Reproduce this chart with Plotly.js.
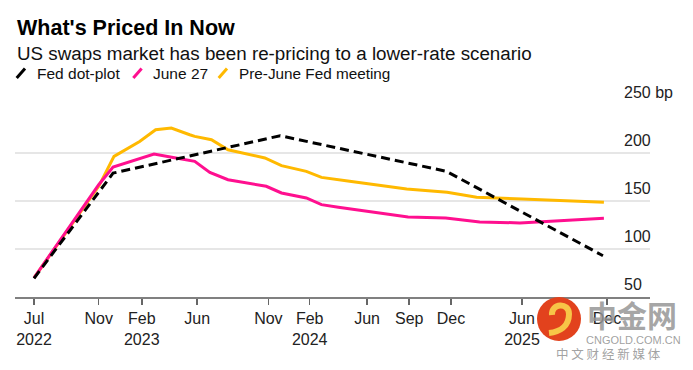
<!DOCTYPE html>
<html>
<head>
<meta charset="utf-8">
<script src="https://cdn.plot.ly/plotly-3.0.1.min.js"></script>
<style>
html,body{margin:0;padding:0;background:#fff;}
#chart{width:693px;height:370px;}
</style>
</head>
<body>
<div id="chart"></div>
<script>
// ---- data ----
const dotDates   = ['2022-07-01','2022-12-01','2023-11-27','2024-11-21','2025-11-23'];
const dotValues  = [69.5, 179, 218, 181, 93];

const juneDates  = ['2022-07-01','2022-11-01','2022-12-01','2023-02-28','2023-04-09','2023-05-15','2023-05-26',
                    '2023-06-28','2023-08-06','2023-10-27','2023-11-30','2024-01-24','2024-02-26','2024-04-01',
                    '2024-08-29','2024-11-20','2025-02-14','2025-05-26','2025-08-29','2025-11-25'];
const juneValues = [70, 167, 185.4, 199, 195.4, 192, 191.3,
                    179.8, 172.2, 165.3, 158.4, 153.2, 146.2, 143.5,
                    133.4, 132.4, 128.2, 127.2, 129.9, 132];

const preDates   = ['2022-07-01','2022-11-01','2022-12-03','2023-01-27','2023-03-01','2023-04-05','2023-05-15',
                    '2023-05-26','2023-07-01','2023-08-06','2023-10-24','2023-11-30','2024-01-24','2024-02-26',
                    '2024-04-25','2024-08-26','2024-11-23','2025-02-06','2025-06-01','2025-11-25'];
const preValues  = [70, 165.3, 196.5, 212, 224.2, 226, 219,
                    217.3, 213.8, 203.4, 194.8, 186.8, 180.9, 174.6,
                    170.5, 162.6, 159, 153.8, 152.2, 148.6];

const tickDates  = ['2022-07-01','2022-11-01','2023-02-01','2023-06-01','2023-11-01','2024-02-01',
                    '2024-06-01','2024-09-01','2024-12-01','2025-06-01','2025-09-01','2025-12-01'];
const tickLabels = ['Jul<br>2022','Nov','Feb<br>2023','Jun','Nov','Feb<br>2024',
                    'Jun','Sep','Dec','Jun<br>2025','Sep','Dec'];
// where each tick month sits along the (non-uniform) time axis of the original
const tickSlots  = [0, 4.63, 7.71, 11.68, 16.77, 19.73, 23.83, 26.85, 29.84, 34.92, 37.92, 41];

const yTicks     = [50, 100, 150, 200, 250];

// ---- helpers ----
function monthIndex(s){
  const p = s.split('-').map(Number);
  return (p[0]-2022)*12 + (p[1]-7) + ((p[2]||1)-1)/30.5;
}
const tickMonths = tickDates.map(monthIndex);
function axisPos(s){
  const m = monthIndex(s);
  for (let i=0;i<tickMonths.length-1;i++){
    if (m <= tickMonths[i+1] || i === tickMonths.length-2){
      const f = (m - tickMonths[i])/(tickMonths[i+1]-tickMonths[i]);
      return tickSlots[i] + f*(tickSlots[i+1]-tickSlots[i]);
    }
  }
}

const W=693,H=370, ML=15, MR=43, MT=105, MB=73;
const PW=W-ML-MR, PH=H-MT-MB;
const px = x => (x-ML)/PW;
const py = y => (H-MB-y)/PH;

const FONT = '"Liberation Sans", Arial, Helvetica, sans-serif';
const CJK = '"Noto Sans CJK SC", sans-serif';
const PINK = '#ff0f8f', GOLD = '#ffb900';

const traces = [
  {x: preDates.map(axisPos), y: preValues, type:'scatter', mode:'lines',
   line:{color:GOLD, width:3}, hoverinfo:'skip', showlegend:false},
  {x: juneDates.map(axisPos), y: juneValues, type:'scatter', mode:'lines',
   line:{color:PINK, width:3}, hoverinfo:'skip', showlegend:false},
  {x: dotDates.map(axisPos), y: dotValues, type:'scatter', mode:'lines',
   line:{color:'#000', width:3, dash:'9px,5px'}, hoverinfo:'skip', showlegend:false}
];

const annotations = [
  {text:"<b>What's Priced In Now</b>", x:px(15), y:py(28), xref:'paper', yref:'paper',
   xanchor:'left', yanchor:'middle', showarrow:false, font:{family:FONT, size:21.5, color:'#000'}},
  {text:'US swaps market has been re-pricing to a lower-rate scenario', x:px(15), y:py(53.5), xref:'paper', yref:'paper',
   xanchor:'left', yanchor:'middle', showarrow:false, font:{family:FONT, size:18.8, color:'#111'}},
  {text:'Fed dot-plot', x:px(35), y:py(73.5), xref:'paper', yref:'paper', xanchor:'left', yanchor:'middle',
   showarrow:false, font:{family:FONT, size:15.5, color:'#111'}},
  {text:'June 27', x:px(150.5), y:py(73.5), xref:'paper', yref:'paper', xanchor:'left', yanchor:'middle',
   showarrow:false, font:{family:FONT, size:15.5, color:'#111'}},
  {text:'Pre-June Fed meeting', x:px(236.5), y:py(73.5), xref:'paper', yref:'paper', xanchor:'left', yanchor:'middle',
   showarrow:false, font:{family:FONT, size:15.3, color:'#111'}}
];
yTicks.forEach((v,i)=>{
  annotations.push({text: v + (i===yTicks.length-1 ? ' bp' : ''), x:px(622), xref:'paper', y:v, yref:'y',
    xanchor:'left', yanchor:'middle', yshift:13, showarrow:false,
    font:{family:FONT, size:16, color:'#222'}});
});
// watermark of the source image
annotations.push(
  {text:'<b>中金网</b>', x:px(632), y:py(314), xref:'paper', yref:'paper', xanchor:'center', yanchor:'middle',
   showarrow:false, font:{family:CJK, size:30, color:'rgba(150,150,150,0.85)'}},
  {text:'CNGOLD.COM.CN', x:px(633), y:py(340), xref:'paper', yref:'paper', xanchor:'center', yanchor:'middle',
   showarrow:false, font:{family:FONT, size:11, color:'rgba(150,150,150,0.9)'}},
  {text:'中 文 财 经 新 媒 体', x:px(608), y:py(353), xref:'paper', yref:'paper', xanchor:'center', yanchor:'middle',
   showarrow:false, font:{family:CJK, size:12.5, color:'rgba(150,150,150,0.9)'}}
);

function slash(x0, color){
  return {type:'line', xref:'paper', yref:'paper', x0:px(x0), y0:py(78), x1:px(x0+8.3), y1:py(68.5),
    line:{color:color, width:3}};
}
function pt(x,y){ return px(x).toFixed(5)+','+py(y).toFixed(5); }
const swirl = 'M'+pt(552,315)+' C'+pt(551,303)+' '+pt(569,302)+' '+pt(569,314)+
              ' C'+pt(569,327)+' '+pt(559,332)+' '+pt(549,333);
const shapes = [
  slash(16.7,'#000'), slash(133.3,PINK), slash(218.7,GOLD),
  {type:'circle', xref:'paper', yref:'paper', layer:'above',
   x0:px(537), x1:px(581), y0:py(341), y1:py(297), fillcolor:'#e2421d', line:{width:0}},
  {type:'path', xref:'paper', yref:'paper', layer:'above', path:swirl,
   line:{color:'#f7c547', width:6}}
];

const layout = {
  width:W, height:H,
  margin:{l:ML, r:MR, t:MT, b:MB, pad:0},
  paper_bgcolor:'#fff', plot_bgcolor:'#fff',
  showlegend:false,
  xaxis:{
    range:[-1.36, 44.08], tickmode:'array', tickvals:tickSlots, ticktext:tickLabels,
    showgrid:false, zeroline:false, showline:true, linecolor:'#808080', linewidth:1.5,
    ticks:'outside', ticklen:6, tickwidth:1.5, tickcolor:'#666',
    tickfont:{family:FONT, size:16, color:'#222'}, fixedrange:true
  },
  yaxis:{
    range:[50, 250], tickmode:'array', tickvals:yTicks.slice(1), showticklabels:false,
    showgrid:true, gridcolor:'#e6e6e6', gridwidth:2, zeroline:false, showline:false, ticks:'',
    fixedrange:true
  },
  annotations:annotations,
  shapes:shapes
};

Plotly.newPlot('chart', traces, layout, {staticPlot:true, displayModeBar:false});
</script>
</body>
</html>
